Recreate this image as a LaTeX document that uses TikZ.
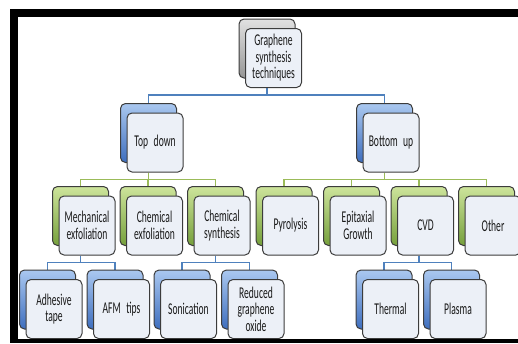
\documentclass[tikz,border=0pt]{standalone}
\usepackage{fontspec}
\setmainfont{Carlito}[FakeStretch=0.58]
\usetikzlibrary{positioning,shadows,backgrounds}
\definecolor{lineblue}{RGB}{79,129,189}
\definecolor{linegreen}{RGB}{155,187,89}
\definecolor{frontfill}{RGB}{236,240,247}
\definecolor{boxedge}{RGB}{60,60,60}
\definecolor{blueA}{RGB}{170,200,240}
\definecolor{blueB}{RGB}{62,110,190}
\definecolor{greenA}{RGB}{205,228,155}
\definecolor{greenB}{RGB}{118,160,60}
\definecolor{grayA}{RGB}{225,225,225}
\definecolor{grayB}{RGB}{150,150,150}
\newcommand{\boxfont}{\fontsize{16.5}{16.5}\selectfont\spaceskip=1.6pt\relax}
\begin{document}
\begin{tikzpicture}[x=1pt, y=-1pt, node distance={67.5pt}, thick,
    main/.style = {draw=boxedge, line width=1pt, rounded corners=5pt, fill=frontfill,
      minimum width=56pt, minimum height=59pt, text width=54pt, align=center,
      inner sep=0pt, font=\boxfont, text=black!90},
    backbox/.style 2 args = {copy shadow={shadow xshift=-6.5pt, shadow yshift=9.5pt,
      draw=boxedge, top color=#1, bottom color=#2}},
    rootbox/.style = {main, backbox={grayA}{grayB}},
    bluebox/.style = {main, backbox={blueA}{blueB}},
    greenbox/.style = {main, backbox={greenA}{greenB}},
    link/.style = {line width=1.1pt}]
  \useasboundingbox (0,0) rectangle (518,343);

  \node[rootbox] (1) at (273.5,58) {Graphene\\synthesis\\techniques};
  \node[bluebox] (2) at (155,142.5) {Top down};
  \node[bluebox] (3) at (391,142.5) {Bottom up};
  \node[greenbox] (4) at (87,225.5) {Mechanical\\exfoliation};
  \node[greenbox] (5) [right of=4] {Chemical\\exfoliation};
  \node[greenbox] (6) [right of=5] {Chemical\\synthesis};
  \node[greenbox] (7) at (290.5,225.5) {Pyrolysis};
  \node[greenbox] (8) [right of=7] {Epitaxial\\Growth};
  \node[greenbox] (9) [right of=8] {CVD};
  \node[greenbox] (10) [right of=9] {Other};
  \node[bluebox] (11) at (54,309) {Adhesive\\tape};
  \node[bluebox] (12) [right of=11] {AFM tips};
  \node[bluebox] (13) at (188.5,309) {Sonication};
  \node[bluebox] (14) [right of=13] {Reduced\\graphene\\oxide};
  \node[bluebox] (15) at (390.5,309) {Thermal};
  \node[bluebox] (16) [right of=15] {Plasma};

  % connectors, behind the boxes
  \begin{scope}[on background layer]
    \foreach \c in {2,3}
      \draw[link, lineblue] ([xshift=-6.5pt]1.south) -- ++(0,7) -| ([xshift=-6.5pt]\c.center);
    \foreach \c in {4,5,6}
      \draw[link, linegreen] ([xshift=-6.5pt]2.south) -- ++(0,7) -| ([xshift=-6.5pt]\c.center);
    \foreach \c in {7,8,9,10}
      \draw[link, linegreen] ([xshift=-6.5pt]3.south) -- ++(0,7) -| ([xshift=-6.5pt]\c.center);
    \foreach \c in {11,12}
      \draw[link, lineblue] ([xshift=-6.5pt]4.south) -- ++(0,7) -| ([xshift=-6.5pt]\c.center);
    \foreach \c in {13,14}
      \draw[link, lineblue] ([xshift=-6.5pt]6.south) -- ++(0,7) -| ([xshift=-6.5pt]\c.center);
    \foreach \c in {15,16}
      \draw[link, lineblue] ([xshift=-6.5pt]9.south) -- ++(0,7) -| ([xshift=-6.5pt]\c.center);
  \end{scope}

  % black frame
  \fill (10,9) rectangle (518,17);
  \fill (10,9) rectangle (18,343);
  \fill (10,339) rectangle (518,343);
\end{tikzpicture}
\end{document}
